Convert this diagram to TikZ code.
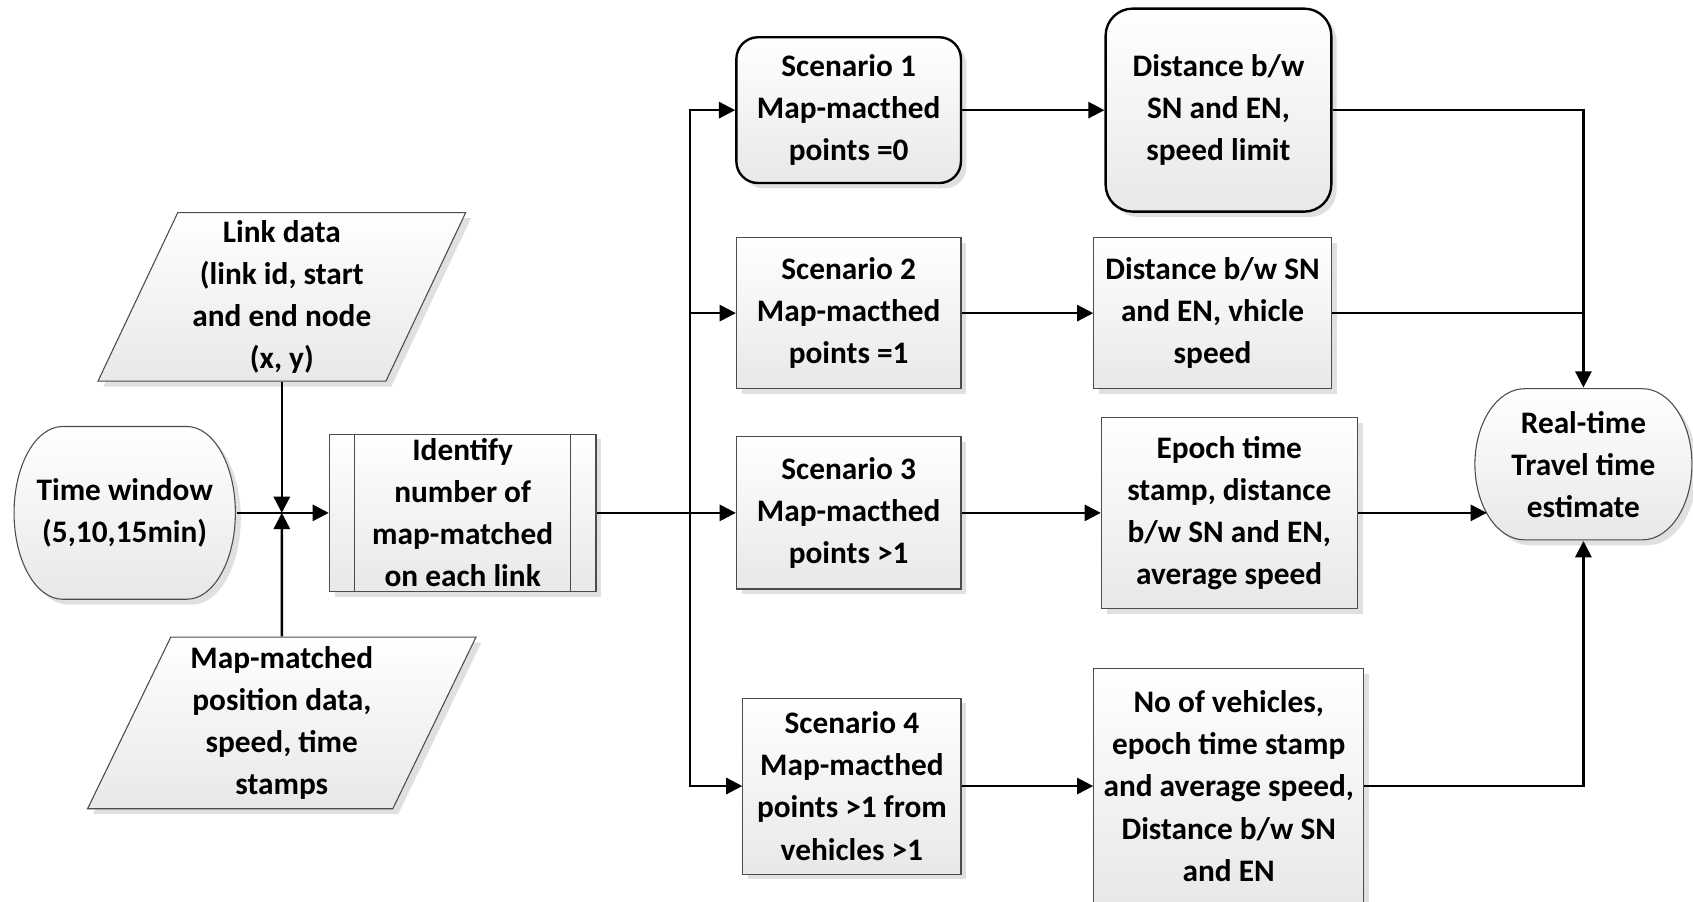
\documentclass[tikz,border=0pt]{standalone}
\usepackage{fontspec}
\setmainfont{Carlito}
\usetikzlibrary{arrows.meta,shapes.geometric,shadows}
\begin{document}
\begin{tikzpicture}[x=0.5pt,y=-0.5pt,line width=1.1pt,>={Triangle[length=7.5pt,width=7.5pt]},
boxfill/.style={top color=white,bottom color=black!9,drop shadow={shadow xshift=2.5pt,shadow yshift=-2.5pt,fill=black!12,opacity=1}},
txt/.style={align=center,inner sep=1pt,font=\bfseries\fontsize{14.5}{19.5}\selectfont},
plainbox/.style={txt,draw=black!70,line width=0.5pt,boxfill},
rbox/.style={plainbox,draw=black,line width=1.1pt,rounded corners=10pt},
iobox/.style={plainbox,trapezium,trapezium left angle=66,trapezium right angle=114,trapezium stretches=true},
termline/.style={draw=black!70,line width=0.5pt,boxfill},
sideline/.style={draw=black!70,line width=0.5pt}]

\useasboundingbox (0,0) rectangle (1568,835);

\draw[termline] (58,395) -- (173,395) arc[start angle=90,end angle=-90,x radius=22.5pt,y radius=40pt] -- (58,555) arc[start angle=270,end angle=90,x radius=22.5pt,y radius=40pt] -- cycle;
\draw (115.5,475) node[txt,minimum width=102.5pt,minimum height=80pt] (tw) {Time window\\(5,10,15min)};

\draw (261,275) node[iobox,minimum width=170.5pt,minimum height=78pt] (link) {Link data\\(link id, start\\and end node\\(x, y)};
\draw (261,669.5) node[iobox,minimum width=180pt,minimum height=79.5pt] (mm) {Map-matched\\position data,\\speed, time\\stamps};

\draw (428.5,475) node[plainbox,minimum width=123.5pt,minimum height=73pt] (id) {Identify\\number of\\map-matched\\on each link};
\draw[sideline] ([xshift=12pt]id.north west) -- ([xshift=12pt]id.south west);
\draw[sideline] ([xshift=-12pt]id.north east) -- ([xshift=-12pt]id.south east);

\draw (786,102) node[rbox,minimum width=104pt,minimum height=67.5pt] (s1) {Scenario 1\\Map-macthed\\points =0};
\draw (786,290) node[plainbox,minimum width=104pt,minimum height=70pt] (s2) {Scenario 2\\Map-macthed\\points =1};
\draw (786,475) node[plainbox,minimum width=104pt,minimum height=70.5pt] (s3) {Scenario 3\\Map-macthed\\points >1};
\draw (789,728) node[plainbox,minimum width=101pt,minimum height=81.5pt] (s4) {Scenario 4\\Map-macthed\\points >1 from\\vehicles >1};

\draw (1128.5,102) node[rbox,rounded corners=12.5pt,minimum width=104.5pt,minimum height=94pt] (d1) {Distance b/w\\SN and EN,\\speed limit};
\draw (1123,290) node[plainbox,minimum width=110pt,minimum height=70pt] (d2) {Distance b/w SN\\and EN, vhicle\\speed};
\draw (1138.5,475) node[plainbox,minimum width=118.5pt,minimum height=88.5pt] (d3) {Epoch time\\stamp, distance\\b/w SN and EN,\\average speed};
\draw (1138,728) node[plainbox,minimum width=125pt,minimum height=109pt] (d4) {No of vehicles,\\epoch time stamp\\and average speed,\\Distance b/w SN\\and EN};

\draw[termline] (1412,360) -- (1521,360) arc[start angle=90,end angle=-90,x radius=23pt,y radius=35pt] -- (1412,500) arc[start angle=270,end angle=90,x radius=23pt,y radius=35pt] -- cycle;
\draw (1466.5,430) node[txt,minimum width=100.5pt,minimum height=70pt] (rt) {Real-time\\Travel time\\estimate};

\coordinate (jn) at (261,475);
\coordinate (bus) at (639,475);
\coordinate (rtin) at (1377,475);

\draw[->] (tw) -- (id);
\draw[->] (link) -- (jn);
\draw[->] (mm) -- (jn);
\draw[->] (id) -- (s3);
\draw[->] (bus) |- (s1);
\draw[->] (bus) |- (s2);
\draw[->] (bus) |- (s4);
\draw[->] (s1) -- (d1);
\draw[->] (s2) -- (d2);
\draw[->] (s3) -- (d3);
\draw[->] (s4) -- (d4);
\draw[->] (d1) -| (rt);
\draw (d2) -- (d2 -| rt);
\draw[->] (d3) -- (rtin);
\draw[->] (d4) -| (rt);

\end{tikzpicture}
\end{document}
